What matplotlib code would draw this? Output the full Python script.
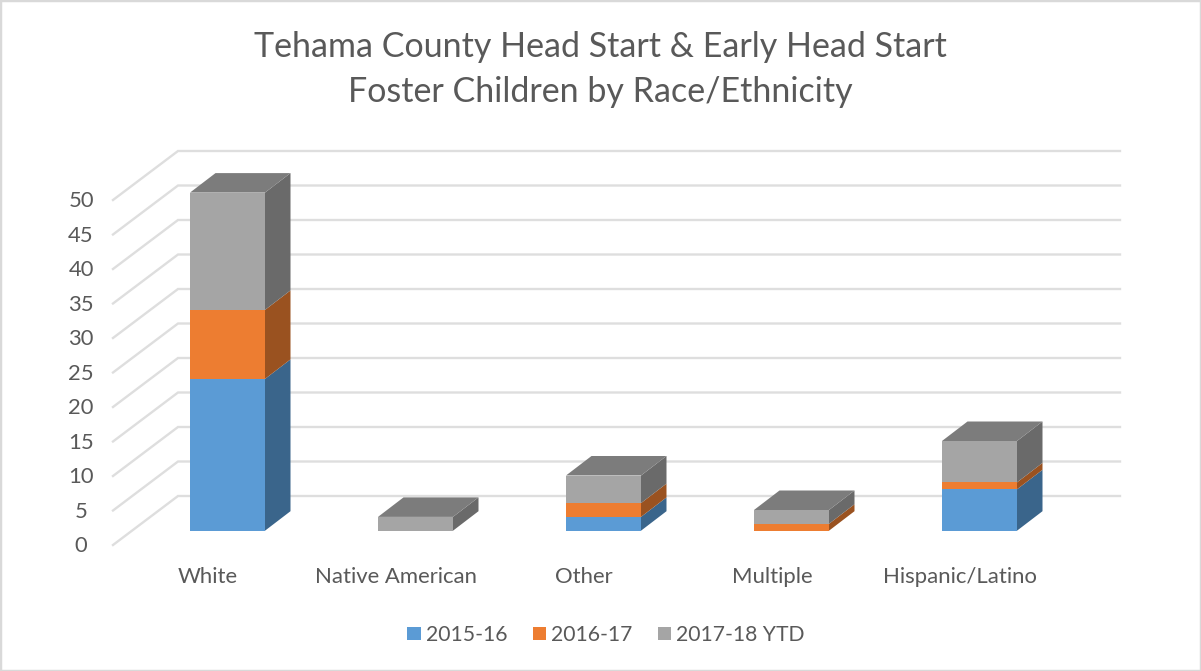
"""Tehama County foster children chart, Excel style 3D stacked columns."""

import matplotlib
matplotlib.use('Agg')  # Non-interactive backend

import numpy as np
import matplotlib.pyplot as plt
from matplotlib.patches import Patch, Polygon, Rectangle

# Data
categories = ['White', 'Native American', 'Other', 'Multiple', 'Hispanic/Latino']
series_names = ['2015-16', '2016-17', '2017-18 YTD']
values_2015 = [22, 0, 2, 0, 6]
values_2016 = [10, 0, 2, 1, 1]
values_2017 = [17, 2, 4, 2, 6]
y_ticks = [0, 5, 10, 15, 20, 25, 30, 35, 40, 45, 50]

# Colors
front_colors = ['#5B9BD5', '#ED7D31', '#A5A5A5']
side_colors = ['#3A658B', '#9A5220', '#6A6A6A']
top_color = '#7C7C7C'
grid_color = '#DEDEDE'
text_color = '#595959'

plt.rcParams['font.family'] = ['Lato', 'DejaVu Sans']

# Pixel scale of the picture, used to set the axes limits
W, H = 1201, 671
x_step = 188.0   # pixels per category
y_unit = 6.9     # pixels per value unit
x0_px = 227.5    # center of first bar
y0_px = 530.7    # base of the bars

fig = plt.figure(figsize=(W / 100, H / 100), dpi=100)
ax = fig.add_axes([0, 0, 1, 1])
ax.set_xlim(-x0_px / x_step, (W - x0_px) / x_step)
ax.set_ylim((y0_px - H) / y_unit, y0_px / y_unit)
ax.axis('off')

# Bar size and 3D offsets, in data units
bar_width = 75 / x_step
depth_x = 25.5 / x_step
depth_y = 19.5 / y_unit

# Wall and floor grid offsets
wall_front_x = (113 - x0_px) / x_step
wall_back_x = (178 - x0_px) / x_step
wall_right_x = (1120 - x0_px) / x_step
wall_front_y = -14.3 / y_unit
wall_back_y = 34.7 / y_unit

# Gridlines
for v in y_ticks:
    ax.plot([wall_front_x, wall_back_x, wall_right_x],
            [v + wall_front_y, v + wall_back_y, v + wall_back_y],
            color=grid_color, lw=1.7, zorder=1, solid_joinstyle='miter')
    ax.text((81 - x0_px) / x_step, v + wall_front_y - 0.2, str(v), ha='center', va='center',
            fontsize=15.8, color=text_color)

# Stacked columns with side and top faces
x_pos = np.arange(len(categories))
series = [values_2015, values_2016, values_2017]
bottoms = np.zeros(len(categories))
for vals, front, side in zip(series, front_colors, side_colors):
    vals = np.array(vals, dtype=float)
    ax.bar(x_pos, vals, bar_width, bottom=bottoms, color=front, linewidth=0, zorder=3)
    for x, b, v in zip(x_pos, bottoms, vals):
        if v == 0:
            continue
        r = x + bar_width / 2
        ax.add_patch(Polygon([(r, b), (r + depth_x, b + depth_y),
                              (r + depth_x, b + v + depth_y), (r, b + v)],
                             facecolor=side, edgecolor='none', zorder=3))
    bottoms = bottoms + vals

for x, top in zip(x_pos, bottoms):
    l, r = x - bar_width / 2, x + bar_width / 2
    ax.add_patch(Polygon([(l, top), (r, top), (r + depth_x, top + depth_y),
                          (l + depth_x, top + depth_y)],
                         facecolor=top_color, edgecolor='none', zorder=3))

# Category labels
label_x = [208, 396, 584, 772, 960]
for name, px in zip(categories, label_x):
    ax.text((px - x0_px) / x_step, (y0_px - 577) / y_unit, name, ha='center', va='center',
            fontsize=15.9, color=text_color)

# Title
fig.text(600 / W, 1 - 47 / H, 'Tehama County Head Start & Early Head Start', ha='center', va='center',
         fontsize=24.5, color=text_color)
fig.text(600 / W, 1 - 92 / H, 'Foster Children by Race/Ethnicity', ha='center', va='center',
         fontsize=24.5, color=text_color)

# Legend
handles = [Patch(facecolor=c, edgecolor='none', label=n) for c, n in zip(front_colors, series_names)]
leg = ax.legend(handles=handles, loc='center', bbox_to_anchor=(606 / W, 1 - 635 / H), ncol=3,
                frameon=False, fontsize=15.2, handlelength=0.62, handleheight=0.62,
                handletextpad=0.25, columnspacing=1.2, labelcolor=text_color)

# Thin outer frame of the chart
fig.add_artist(Rectangle((0, 0), 1, 1, transform=fig.transFigure, fill=False,
                         edgecolor='#D9D9D9', lw=2.5))

plt.savefig('out.png', dpi=100)
